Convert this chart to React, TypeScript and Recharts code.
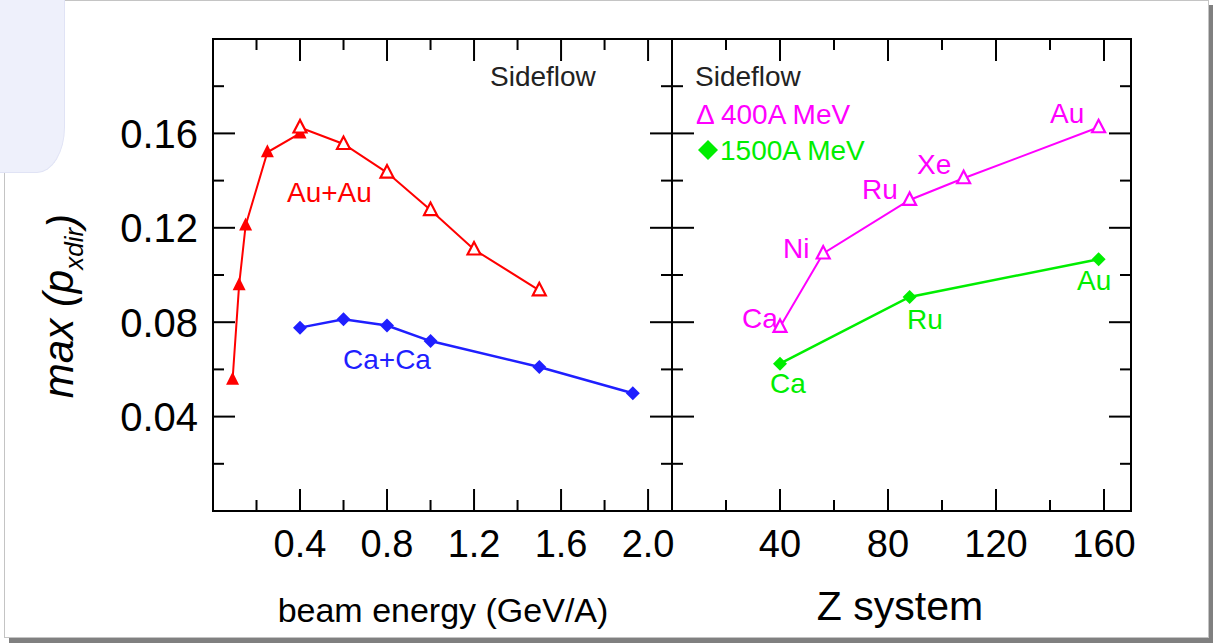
import React from 'react';
import { ComposedChart, Line, XAxis, YAxis, Customized } from 'recharts';

// axis ticks
const energyTicks = [0.2, 0.4, 0.6, 0.8, 1.0, 1.2, 1.4, 1.6, 1.8, 2.0];
const energyMajor = [0.4, 0.8, 1.2, 1.6, 2.0];
const zTicks = [20, 40, 60, 80, 100, 120, 140, 160];
const zMajor = [40, 80, 120, 160];
const flowTicks = [0.02, 0.04, 0.06, 0.08, 0.1, 0.12, 0.14, 0.16, 0.18];
const flowMajor = [0.04, 0.08, 0.12, 0.16];

// left panel: max(pxdir) vs beam energy
const auEnergy = [0.09, 0.12, 0.15, 0.25, 0.4, 0.4, 0.6, 0.8, 1.0, 1.2, 1.5];
const auFlow = [0.0556, 0.0957, 0.121, 0.152, 0.16, 0.1625, 0.1555, 0.1434, 0.1275, 0.1108, 0.0935];
const auOpen = [false, false, false, false, false, true, true, true, true, true, true];
const caEnergy = [0.4, 0.6, 0.8, 1.0, 1.5, 1.93];
const caFlow = [0.0777, 0.0812, 0.0786, 0.072, 0.061, 0.0499];

// right panel: max(pxdir) vs Z of system
const z400 = [40, 56, 88, 108, 158];
const flow400 = [0.078, 0.1091, 0.1318, 0.141, 0.1626];
const z1500 = [40, 88, 158];
const flow1500 = [0.0624, 0.0907, 0.1067];

const FONT = '"Liberation Sans", Arial, Helvetica, sans-serif';
const RED = '#ff0000';
const BLUE = '#1f1fff';
const MAGENTA = '#ff00ff';
const GREEN = '#00ee00';

// plot frame edges (page px)
const TOP = 39;
const BOTTOM = 511;
const MID = 672;
const L_LEFT = 213;
const R_RIGHT = 1131;

const auRows = auEnergy.map((x, i) => ({ x, y: auFlow[i], open: auOpen[i] }));
const caRows = caEnergy.map((x, i) => ({ x, y: caFlow[i] }));
const rows400 = z400.map((x, i) => ({ x, y: flow400[i], open: true }));
const rows1500 = z1500.map((x, i) => ({ x, y: flow1500[i] }));

const isIn = (v: number, list: number[]) => list.some((m) => Math.abs(m - v) < 1e-6);

// x ticks: inward marks on bottom and top edge, label under the majors
const makeXTick = (majors: number[], fmt: (v: number) => string) => (p: any) => {
  const v = p.payload.value;
  const major = isIn(v, majors);
  const len = major ? 22 : 11;
  return (
    <g>
      <line x1={p.x} x2={p.x} y1={BOTTOM} y2={BOTTOM - len} stroke="#000" strokeWidth={2} />
      <line x1={p.x} x2={p.x} y1={TOP} y2={TOP + len} stroke="#000" strokeWidth={2} />
      {major && (
        <text x={p.x} y={BOTTOM + 46} textAnchor="middle" fontSize={38} fill="#000" fontFamily={FONT}>
          {fmt(v)}
        </text>
      )}
    </g>
  );
};

// y ticks: inward marks on both side edges of a panel
const makeYTick = (left: number, right: number, showLabels: boolean) => (p: any) => {
  const v = p.payload.value;
  const major = isIn(v, flowMajor);
  const len = major ? 22 : 11;
  return (
    <g>
      <line x1={left} x2={left + len} y1={p.y} y2={p.y} stroke="#000" strokeWidth={2} />
      <line x1={right} x2={right - len} y1={p.y} y2={p.y} stroke="#000" strokeWidth={2} />
      {showLabels && major && (
        <text x={left - 15} y={p.y} dy="0.36em" textAnchor="end" fontSize={40} fill="#000" fontFamily={FONT}>
          {v.toFixed(2)}
        </text>
      )}
    </g>
  );
};

const triangleDot = (color: string) => (p: any) => {
  const { cx, cy, payload, index } = p;
  if (cx == null || cy == null) return <g key={index} />;
  if (payload.open) {
    return (
      <polygon
        key={index}
        points={`${cx},${cy - 7.5} ${cx - 6.5},${cy + 5} ${cx + 6.5},${cy + 5}`}
        fill="#fff"
        stroke={color}
        strokeWidth={2.2}
      />
    );
  }
  return <polygon key={index} points={`${cx},${cy - 8} ${cx - 6.5},${cy + 5} ${cx + 6.5},${cy + 5}`} fill={color} />;
};

const diamondDot = (color: string, r: number) => (p: any) => {
  const { cx, cy, index } = p;
  if (cx == null || cy == null) return <g key={index} />;
  return <polygon key={index} points={`${cx},${cy - r} ${cx + r},${cy} ${cx},${cy + r} ${cx - r},${cy}`} fill={color} />;
};

const txt = (x: number, y: number, s: string, color: string, size = 28) => (
  <text x={x} y={y} fontSize={size} fill={color} fontFamily={FONT}>
    {s}
  </text>
);

const LeftNotes = () => (
  <g>
    <rect x={L_LEFT} y={TOP} width={MID - L_LEFT} height={BOTTOM - TOP} fill="none" stroke="#000" strokeWidth={2} />
    {txt(490, 86, 'Sideflow', '#222')}
    {txt(287, 202, 'Au+Au', RED)}
    {txt(343, 369, 'Ca+Ca', BLUE)}
    <text x={443} y={622} textAnchor="middle" fontSize={34} fill="#000" fontFamily={FONT}>
      beam energy (GeV/A)
    </text>
    <text
      x={73}
      y={306}
      textAnchor="middle"
      fontSize={42}
      fontStyle="italic"
      fill="#000"
      fontFamily={FONT}
      transform="rotate(-90, 73, 306)"
    >
      <tspan>max (p</tspan>
      <tspan fontSize={26} dy={10}>xdir</tspan>
      <tspan dy={-6}>)</tspan>
    </text>
  </g>
);

const RightNotes = () => (
  <g>
    <rect x={MID} y={TOP} width={R_RIGHT - MID} height={BOTTOM - TOP} fill="none" stroke="#000" strokeWidth={2} />
    {txt(695, 86, 'Sideflow', '#222')}
    {txt(696, 124, '\u0394 400A MeV', MAGENTA)}
    <polygon points="708,140 718,150 708,160 698,150" fill={GREEN} />
    {txt(720, 160, '1500A MeV', GREEN)}
    {txt(742, 328, 'Ca', MAGENTA)}
    {txt(783, 258, 'Ni', MAGENTA)}
    {txt(862, 199, 'Ru', MAGENTA)}
    {txt(917, 174, 'Xe', MAGENTA)}
    {txt(1050, 123, 'Au', MAGENTA)}
    {txt(770, 393, 'Ca', GREEN)}
    {txt(907, 329, 'Ru', GREEN)}
    {txt(1077, 290, 'Au', GREEN)}
    <text x={900} y={620} textAnchor="middle" fontSize={41} fill="#000" fontFamily={FONT}>
      Z system
    </text>
  </g>
);

export default function App() {
  const abs: React.CSSProperties = { position: 'absolute', left: 0, top: 0 };
  return (
    <div style={{ position: 'absolute', left: 0, top: 0, width: 1213, height: 643, background: '#fff', overflow: 'hidden' }}>
      <div
        style={{
          position: 'absolute',
          left: 4,
          top: 0,
          width: 1203,
          height: 636,
          border: '1px solid #c4c4c4',
          background: '#fff',
          boxShadow: '5px 5px 0 #808080',
        }}
      />
      <div
        style={{
          position: 'absolute',
          left: 0,
          top: 0,
          width: 64,
          height: 172,
          background: '#eef0fb',
          borderRight: '1px solid #e0e3f5',
          borderBottom: '1px solid #e0e3f5',
          borderBottomRightRadius: '28px 46px',
        }}
      />
      <div style={abs}>
        <ComposedChart width={1213} height={643} margin={{ top: TOP, right: 1213 - MID, bottom: 0, left: 0 }}>
          <XAxis
            xAxisId="b"
            type="number"
            dataKey="x"
            domain={[0, 2.11]}
            allowDataOverflow
            ticks={energyTicks}
            interval={0}
            height={643 - BOTTOM}
            tickLine={false}
            axisLine={false}
            tick={makeXTick(energyMajor, (v) => v.toFixed(1))}
          />
          <YAxis
            yAxisId="l"
            type="number"
            domain={[0, 0.2]}
            allowDataOverflow
            ticks={flowTicks}
            interval={0}
            width={L_LEFT}
            tickLine={false}
            axisLine={false}
            tick={makeYTick(L_LEFT, MID, true)}
          />
          <Line
            xAxisId="b"
            yAxisId="l"
            data={auRows}
            dataKey="y"
            stroke={RED}
            strokeWidth={2}
            dot={triangleDot(RED)}
            isAnimationActive={false}
          />
          <Line
            xAxisId="b"
            yAxisId="l"
            data={caRows}
            dataKey="y"
            stroke={BLUE}
            strokeWidth={2.5}
            dot={diamondDot(BLUE, 7)}
            isAnimationActive={false}
          />
          <Customized component={LeftNotes} />
        </ComposedChart>
      </div>
      <div style={abs}>
        <ComposedChart width={1213} height={643} margin={{ top: TOP, right: 1213 - R_RIGHT, bottom: 0, left: 0 }}>
          <XAxis
            xAxisId="b"
            type="number"
            dataKey="x"
            domain={[0, 170]}
            allowDataOverflow
            ticks={zTicks}
            interval={0}
            height={643 - BOTTOM}
            tickLine={false}
            axisLine={false}
            tick={makeXTick(zMajor, (v) => String(v))}
          />
          <YAxis
            yAxisId="l"
            type="number"
            domain={[0, 0.2]}
            allowDataOverflow
            ticks={flowTicks}
            interval={0}
            width={MID}
            tickLine={false}
            axisLine={false}
            tick={makeYTick(MID, R_RIGHT, false)}
          />
          <Line
            xAxisId="b"
            yAxisId="l"
            data={rows400}
            dataKey="y"
            stroke={MAGENTA}
            strokeWidth={2}
            dot={triangleDot(MAGENTA)}
            isAnimationActive={false}
          />
          <Line
            xAxisId="b"
            yAxisId="l"
            data={rows1500}
            dataKey="y"
            stroke={GREEN}
            strokeWidth={2.5}
            dot={diamondDot(GREEN, 7)}
            isAnimationActive={false}
          />
          <Customized component={RightNotes} />
        </ComposedChart>
      </div>
    </div>
  );
}
